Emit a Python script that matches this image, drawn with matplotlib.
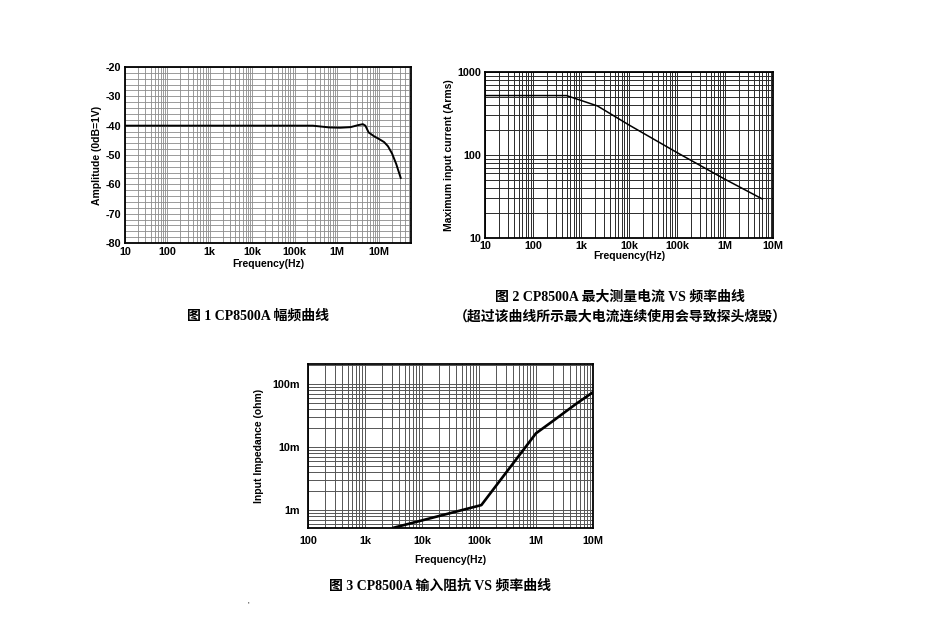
import numpy as np
import matplotlib
matplotlib.use('Agg')
import matplotlib.pyplot as plt
from matplotlib.ticker import FixedLocator, NullFormatter

plt.rcParams['axes.unicode_minus'] = False

W, H = 951, 623

# chart 1: amplitude vs frequency
amp_freq = [10, 1e3, 1e5, 2.7e5, 6.6e5, 1.2e6, 2.1e6, 3.2e6, 4.1e6, 4.7e6, 5.6e6, 7.5e6, 1.0e7, 1.3e7, 1.6e7, 2.0e7, 2.5e7, 3.2e7]
amp_db = [-40, -40, -40, -40, -40.6, -40.7, -40.5, -39.8, -39.5, -40.0, -42.3, -43.6, -44.6, -45.6, -47.0, -49.5, -53.0, -57.8]
amp_xticks = [10, 100, 1e3, 1e4, 1e5, 1e6, 1e7]
amp_xlabels = ['10', '100', '1k', '10k', '100k', '1M', '10M']
amp_yticks = [-20, -30, -40, -50, -60, -70, -80]

# chart 2: max input current vs frequency
cur_freq = [10, 500, 2.2e3, 1e4, 1e5, 1e6, 6e6]
cur_arms = [520, 520, 390, 230, 107, 51, 29.5]
cur_xticks = [10, 100, 1e3, 1e4, 1e5, 1e6, 1e7]
cur_xlabels = ['10', '100', '1k', '10k', '100k', '1M', '10M']
cur_yticks = [10, 100, 1000]
cur_ylabels = ['10', '100', '1000']

# chart 3: input impedance vs frequency (ohm)
imp_freq = [3.2e3, 1.1e5, 1.0e6, 2.0e6, 5.0e6, 1.0e7]
imp_ohm = [0.526e-3, 1.2e-3, 16.5e-3, 26e-3, 48e-3, 74e-3]
imp_xticks = [100, 1e3, 1e4, 1e5, 1e6, 1e7]
imp_xlabels = ['100', '1k', '10k', '100k', '1M', '10M']
imp_yticks = [1e-3, 1e-2, 1e-1]
imp_ylabels = ['1m', '10m', '100m']

captions = [
    '图 1 CP8500A 幅频曲线',
    '图 2 CP8500A 最大测量电流 VS 频率曲线',
    '（超过该曲线所示最大电流连续使用会导致探头烧毁）',
    '图 3 CP8500A 输入阻抗 VS 频率曲线',
]

LAT = ['Liberation Sans']
CAP = ['Liberation Serif', 'Noto Sans CJK SC']


def px_axes(fig, left, top, right, bottom):
    return fig.add_axes([left / W, 1 - bottom / H, (right - left) / W, (bottom - top) / H])


def log_minors(lo_exp, hi_exp):
    vals = []
    for e in range(lo_exp, hi_exp):
        for m in range(1, 10):
            vals.append(m * 10.0 ** e)
    return vals


def style(ax, gcolor, glw):
    ax.grid(True, which='both', color=gcolor, lw=glw)
    ax.set_axisbelow(True)
    for s in ax.spines.values():
        s.set_linewidth(1.3)
        s.set_color('black')
    ax.tick_params(which='both', length=0)
    for lab in ax.get_xticklabels() + ax.get_yticklabels():
        lab.set_fontfamily(LAT)
        lab.set_fontweight('bold')
        lab.set_fontsize(7.8)


fig = plt.figure(figsize=(W / 100, H / 100), dpi=100)

# ---- chart 1
ax1 = px_axes(fig, 125, 67, 411, 243)
ax1.plot(amp_freq, amp_db, color='black', lw=1.4)
ax1.set_xscale('log')
ax1.set_xlim(10, 5.6e7)
ax1.set_ylim(-80, -20)
ax1.xaxis.set_major_locator(FixedLocator(amp_xticks))
ax1.set_xticklabels(amp_xlabels)
ax1.xaxis.set_minor_locator(FixedLocator(log_minors(1, 8)))
ax1.xaxis.set_minor_formatter(NullFormatter())
ax1.set_yticks(amp_yticks)
ax1.yaxis.set_minor_locator(FixedLocator(np.arange(-80, -19, 2)))
style(ax1, '#8a8a8a', 0.6)
ax1.tick_params(axis='x', pad=3)
ax1.tick_params(axis='y', pad=3)
ax1.set_xlabel('Frequency(Hz)', family=LAT, weight='bold', fontsize=7.5, labelpad=1)
ax1.set_ylabel('Amplitude (0dB=1V)', family=LAT, weight='bold', fontsize=7.5, labelpad=2)

# ---- chart 2
ax2 = px_axes(fig, 485, 72, 773, 238)
ax2.plot(cur_freq, cur_arms, color='black', lw=1.1)
ax2.set_xscale('log')
ax2.set_yscale('log')
ax2.set_xlim(10, 1e7)
ax2.set_ylim(10, 1000)
ax2.xaxis.set_major_locator(FixedLocator(cur_xticks))
ax2.set_xticklabels(cur_xlabels)
ax2.xaxis.set_minor_locator(FixedLocator(log_minors(1, 7)))
ax2.xaxis.set_minor_formatter(NullFormatter())
ax2.yaxis.set_major_locator(FixedLocator(cur_yticks))
ax2.set_yticklabels(cur_ylabels)
ax2.yaxis.set_minor_locator(FixedLocator(log_minors(1, 3)))
ax2.yaxis.set_minor_formatter(NullFormatter())
style(ax2, '#2a2a2a', 0.7)
ax2.tick_params(axis='x', pad=2)
ax2.tick_params(axis='y', pad=3)
ax2.set_xlabel('Frequency(Hz)', family=LAT, weight='bold', fontsize=7.5, labelpad=0)
ax2.set_ylabel('Maximum input current (Arms)', family=LAT, weight='bold', fontsize=7.5, labelpad=2)

# ---- chart 3
ax3 = px_axes(fig, 308, 364, 593, 528)
ax3.plot(imp_freq, imp_ohm, color='black', lw=1.9)
ax3.set_xscale('log')
ax3.set_yscale('log')
ax3.set_xlim(100, 1e7)
ax3.set_ylim(0.52e-3, 0.207)
ax3.xaxis.set_major_locator(FixedLocator(imp_xticks))
ax3.set_xticklabels(imp_xlabels)
ax3.xaxis.set_minor_locator(FixedLocator(log_minors(2, 7)))
ax3.xaxis.set_minor_formatter(NullFormatter())
ax3.yaxis.set_major_locator(FixedLocator(imp_yticks))
ax3.set_yticklabels(imp_ylabels)
ax3.yaxis.set_minor_locator(FixedLocator(log_minors(-4, 0)))
ax3.yaxis.set_minor_formatter(NullFormatter())
style(ax3, '#555555', 0.7)
ax3.tick_params(axis='x', pad=6)
ax3.tick_params(axis='y', pad=6)
ax3.set_xlabel('Frequency(Hz)', family=LAT, weight='bold', fontsize=7.5, labelpad=6)
ax3.set_ylabel('Input Impedance (ohm)', family=LAT, weight='bold', fontsize=7.5, labelpad=6)

# ---- captions
fig.text(258 / W, 1 - 316 / H, captions[0], family=CAP, weight='bold', fontsize=10, ha='center', va='center')
fig.text(620 / W, 1 - 297 / H, captions[1], family=CAP, weight='bold', fontsize=10, ha='center', va='center')
fig.text(620 / W, 1 - 317 / H, captions[2], family=CAP, weight='bold', fontsize=10, ha='center', va='center')
fig.text(440 / W, 1 - 586 / H, captions[3], family=CAP, weight='bold', fontsize=10, ha='center', va='center')
fig.text(248 / W, 1 - 605 / H, "'", family=LAT, fontsize=6, ha='center', va='center')

fig.savefig('out.png', dpi=100)
